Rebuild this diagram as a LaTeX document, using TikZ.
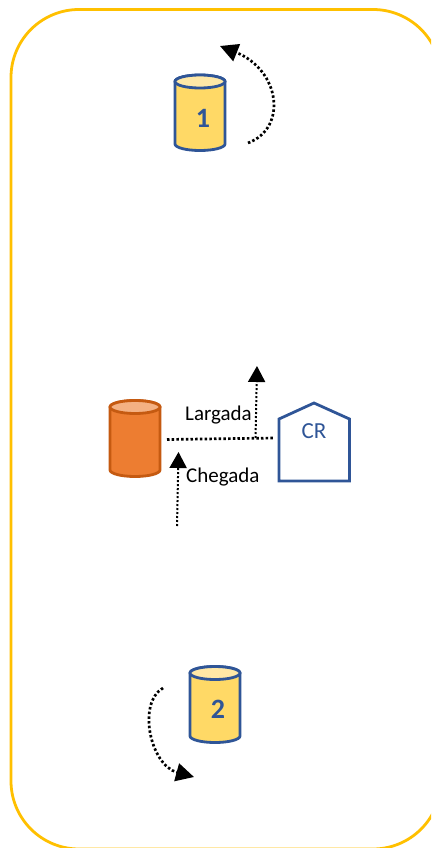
\documentclass[tikz,border=0pt]{standalone}
\usepackage{fontspec}
\setmainfont{Carlito}
\usetikzlibrary{arrows.meta}
\definecolor{frameY}{HTML}{FFC000}
\definecolor{blueS}{HTML}{2F5597}
\definecolor{yelF}{HTML}{FFD966}
\definecolor{yelT}{HTML}{FFE8A6}
\definecolor{oraF}{HTML}{ED7D31}
\definecolor{oraT}{HTML}{F4B183}
\definecolor{oraS}{HTML}{C55A11}
\tikzset{
  x=1pt,y=-1pt,
  frameline/.style={draw=frameY,line width=2.8pt,rounded corners=68pt},
  dotline/.style={line width=2.7pt,dash pattern=on 2.5pt off 2.2pt,-{Triangle[length=18pt,width=18pt,sep=0pt]}},
  dotplain/.style={line width=2.7pt,dash pattern=on 2.5pt off 2.2pt},
  dotthin/.style={line width=2pt,dash pattern=on 2pt off 2pt,-{Triangle[length=16pt,width=17pt,sep=0pt]}},
  cyllabel/.style={text=blueS,font=\fontsize{28}{28}\selectfont\bfseries,inner sep=0pt},
  txtlabel/.style={text=black,font=\fontsize{21}{21}\selectfont,inner sep=0pt,anchor=west},
  crlabel/.style={text=blueS,font=\fontsize{23}{23}\selectfont,inner sep=0pt},
  house/.style={draw=blueS,line width=2.8pt,fill=white,line join=miter},
}
% left x, top-ellipse centre y, bottom-ellipse centre y, body, top, stroke
\newcommand{\drumshape}[6]{%
  \draw[draw=#6,line width=2.8pt,fill=#4]
    (#1,#2) -- (#1,#3) arc[start angle=180,end angle=360,x radius=25pt,y radius=6.5pt]
    -- ({#1+50},#2) arc[start angle=0,end angle=180,x radius=25pt,y radius=6.5pt] -- cycle;
  \draw[draw=#6,line width=2.8pt,fill=#5] ({#1+25},#2) ellipse[x radius=25pt,y radius=6.5pt];
}
\begin{document}
\begin{tikzpicture}
\clip (0,0) rectangle (431,848);
\fill[white] (0,0) rectangle (431,848);
\draw[frameline] (11,9.5) rectangle (441,849);

\drumshape{175}{81.5}{144}{yelF}{yelT}{blueS}
\node[cyllabel] (n1) at (203,118) {1};
\drumshape{110}{407}{470}{oraF}{oraT}{oraS}
\drumshape{190}{673}{736}{yelF}{yelT}{blueS}
\node[cyllabel] (n2) at (218,709) {2};

\draw[house] (279,419) -- (314,403) -- (349.5,419) -- (349.5,481) -- (279,481) -- cycle;
\node[crlabel] (cr) at (314,431) {CR};
\node[txtlabel] (larg) at (185,415) {Largada};
\node[txtlabel] (cheg) at (186,477) {Chegada};

\coordinate (a1s) at (248,143);
\coordinate (a1e) at (220,46);
\coordinate (hs) at (167,439.5);
\coordinate (he) at (275,438);
\coordinate (ls) at (255.5,438);
\coordinate (le) at (257,366);
\coordinate (cs) at (177,526);
\coordinate (ce) at (178.5,452);
\coordinate (a2s) at (163,688);
\coordinate (a2e) at (194,777);

\draw[dotline] (a1s) .. controls (288,128) and (280,70) .. (a1e);
\draw[dotline] (a2s) .. controls (137,703) and (150,765) .. (a2e);
\draw[dotplain] (hs) -- (he);
\draw[dotthin] (ls) -- (le);
\draw[dotthin] (cs) -- (ce);
\end{tikzpicture}
\end{document}
